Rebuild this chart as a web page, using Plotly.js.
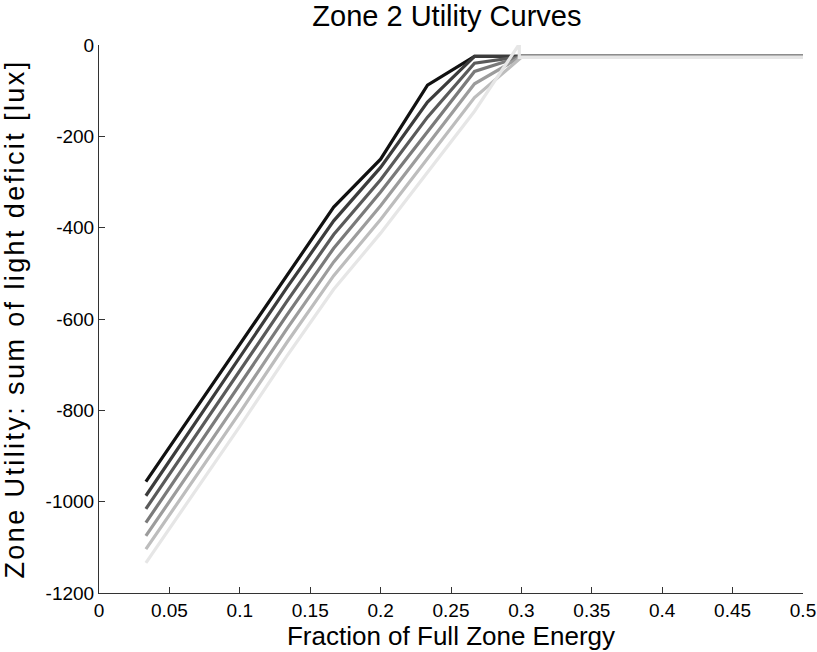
<!DOCTYPE html>
<html>
<head>
<meta charset="utf-8">
<script src="https://cdn.plot.ly/plotly-3.0.1.min.js"></script>
<style>html,body{margin:0;padding:0;background:#fff;}#chart{width:817px;height:652px;}
.ytitle{letter-spacing:2.4px;}
</style>
</head>
<body>
<div id="chart"></div>
<script>
const xVals = [0.0333, 0.0667, 0.1, 0.1333, 0.1667, 0.2, 0.2333, 0.2667, 0.3, 0.3333, 0.3667, 0.4, 0.4333, 0.4667, 0.5];
const line0 = [-956, -805, -655, -505, -355, -250, -88, -25, -25, -25, -25, -25, -25, -25, -25];
const line1 = [-987, -835, -685, -532, -385, -268, -125, -25, -25, -25, -25, -25, -25, -25, -25];
const line2 = [-1016, -865, -715, -562, -415, -295, -158, -40, -25, -25, -25, -25, -25, -25, -25];
const line3 = [-1046, -895, -745, -592, -445, -322, -190, -58, -25, -25, -25, -25, -25, -25, -25];
const line4 = [-1075, -925, -775, -622, -475, -352, -220, -85, -25, -25, -25, -25, -25, -25, -25];
const line5 = [-1104, -955, -805, -652, -505, -382, -250, -115, -27, -27, -27, -27, -27, -27, -27];
const line6x = [0.0333, 0.0667, 0.1, 0.1333, 0.1667, 0.2, 0.2333, 0.2667, 0.2985, 0.2985, 0.3333, 0.3667, 0.4, 0.4333, 0.4667, 0.5];
const line6 = [-1134, -985, -835, -682, -535, -412, -280, -145, 2, -27, -27, -27, -27, -27, -27, -27];
const lineColors = ['#111111', '#3c3c3c', '#5a5a5a', '#7a7a7a', '#9c9c9c', '#bdbdbd', '#e6e6e6'];

const xTickVals = [0, 0.05, 0.1, 0.15, 0.2, 0.25, 0.3, 0.35, 0.4, 0.45, 0.5];
const xTickText = ['0', '0.05', '0.1', '0.15', '0.2', '0.25', '0.3', '0.35', '0.4', '0.45', '0.5'];
const yTickVals = [0, -200, -400, -600, -800, -1000, -1200];
const yTickText = ['0', '-200', '-400', '-600', '-800', '-1000', '-1200'];

const series = [line0, line1, line2, line3, line4, line5];
const traces = series.map((ys, i) => ({
  x: xVals, y: ys, type: 'scatter', mode: 'lines',
  line: {color: lineColors[i], width: 3.2},
  hoverinfo: 'skip', showlegend: false
}));
traces.push({x: line6x, y: line6, type: 'scatter', mode: 'lines',
  line: {color: lineColors[6], width: 3.2}, hoverinfo: 'skip', showlegend: false});

const font = 'Liberation Sans, Arial, sans-serif';
const layout = {
  width: 817, height: 652,
  margin: {l: 99, r: 14, t: 45, b: 59},
  paper_bgcolor: '#fff', plot_bgcolor: '#fff',
  font: {family: font, color: '#000'},
  title: {text: 'Zone 2 Utility Curves', font: {family: font, size: 29, color: '#000'}, x: 0.547, xanchor: 'center', y: 0.976, yanchor: 'middle'},
  xaxis: {
    range: [0, 0.5], tickvals: xTickVals, ticktext: xTickText,
    ticks: 'inside', ticklen: 6, tickcolor: '#333', tickwidth: 1,
    showline: true, linecolor: '#333', linewidth: 1, showgrid: false, zeroline: false,
    tickfont: {size: 19, family: font, color: '#000'},
    title: {text: 'Fraction of Full Zone Energy', font: {size: 26, family: font, color: '#000'}, standoff: 0}
  },
  yaxis: {
    range: [-1200, 0], tickvals: yTickVals, ticktext: yTickText,
    ticks: 'inside', ticklen: 6, tickcolor: '#333', tickwidth: 1,
    showline: true, linecolor: '#333', linewidth: 1, showgrid: false, zeroline: false,
    tickfont: {size: 19, family: font, color: '#000'},
    title: {text: 'Zone Utility: sum of light deficit [lux]', font: {size: 27, family: font, color: '#000'}, standoff: 13}
  }
};
Plotly.newPlot('chart', traces, layout, {displayModeBar: false, staticPlot: true});
</script>
</body>
</html>
